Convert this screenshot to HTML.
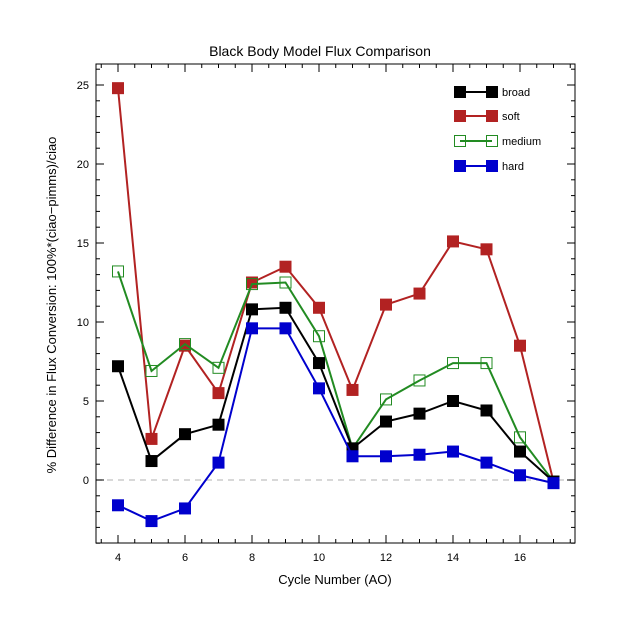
<!DOCTYPE html><html><head><style>body{margin:0;background:#fff}svg{display:block}text{font-family:"Liberation Sans",sans-serif;fill:#000}</style></head><body>
<svg id="s" width="640" height="640" xmlns="http://www.w3.org/2000/svg">
<rect width="640" height="640" fill="#fff"/>
<line x1="96" y1="480" x2="575" y2="480" stroke="#ccc" stroke-width="1.5" stroke-dasharray="6,5"/>
<g id="ticks" stroke="#000" stroke-width="1"></g>
<rect x="96" y="64" width="479" height="479" fill="none" stroke="#000" stroke-width="1"/>
<text x="320" y="56" font-size="14" text-anchor="middle">Black Body Model Flux Comparison</text>
<text x="335" y="584" font-size="13" text-anchor="middle">Cycle Number (AO)</text>
<text transform="translate(56,305) rotate(-90)" font-size="13" text-anchor="middle">% Difference in Flux Conversion: 100%*(ciao−pimms)/ciao</text>
<g font-size="11" text-anchor="middle">
<text x="118" y="561">4</text><text x="185" y="561">6</text><text x="252" y="561">8</text><text x="319" y="561">10</text><text x="386" y="561">12</text><text x="453" y="561">14</text><text x="520" y="561">16</text>
</g>
<g font-size="11" text-anchor="end">
<text x="89" y="484">0</text><text x="89" y="405">5</text><text x="89" y="326">10</text><text x="89" y="247">15</text><text x="89" y="168">20</text><text x="89" y="89">25</text>
</g>
<g id="series"></g>
<g font-size="11">
<line x1="460" y1="92" x2="492" y2="92" stroke="#000" stroke-width="2"/><rect x="454" y="86" width="12" height="12" fill="#000"/><rect x="486" y="86" width="12" height="12" fill="#000"/><text x="502" y="96">broad</text>
<line x1="460" y1="116" x2="492" y2="116" stroke="#b22222" stroke-width="2"/><rect x="454" y="110" width="12" height="12" fill="#b22222"/><rect x="486" y="110" width="12" height="12" fill="#b22222"/><text x="502" y="120">soft</text>
<line x1="460" y1="141" x2="492" y2="141" stroke="#228b22" stroke-width="2"/><rect x="454.5" y="135.5" width="11" height="11" fill="none" stroke="#228b22"/><rect x="486.5" y="135.5" width="11" height="11" fill="none" stroke="#228b22"/><text x="502" y="145">medium</text>
<line x1="460" y1="166" x2="492" y2="166" stroke="#0000cd" stroke-width="2"/><rect x="454" y="160" width="12" height="12" fill="#0000cd"/><rect x="486" y="160" width="12" height="12" fill="#0000cd"/><text x="502" y="170">hard</text>
</g>
</svg>
<script>
function X(v){return 118+(v-4)*33.5}function Y(v){return 480-v*15.8}
var t=document.getElementById('ticks'),h='';
for(var v=3.5;v<=17.5;v+=0.5){var x=X(v),L=(v%2==0)?8:4;h+='<line x1="'+x+'" y1="543" x2="'+x+'" y2="'+(543-L)+'"/><line x1="'+x+'" y1="64" x2="'+x+'" y2="'+(64+L)+'"/>';}
for(var v=-4;v<=26;v++){var y=Y(v),L=(v%5==0)?8:4;h+='<line x1="96" y1="'+y+'" x2="'+(96+L)+'" y2="'+y+'"/><line x1="575" y1="'+y+'" x2="'+(575-L)+'" y2="'+y+'"/>';}
t.innerHTML=h;
var S=[
["#b22222",1,[24.8,2.6,8.5,5.5,12.5,13.5,10.9,5.7,11.1,11.8,15.1,14.6,8.5,-0.1]],
["#228b22",0,[13.2,6.9,8.6,7.1,12.4,12.5,9.1,2.0,5.1,6.3,7.4,7.4,2.7,-0.1]],
["#000",1,[7.2,1.2,2.9,3.5,10.8,10.9,7.4,2.0,3.7,4.2,5.0,4.4,1.8,-0.1]],
["#0000cd",1,[-1.6,-2.6,-1.8,1.1,9.6,9.6,5.8,1.5,1.5,1.6,1.8,1.1,0.3,-0.2]]];
var g='';
S.forEach(function(s){var p=s[2].map(function(v,i){return X(4+i)+','+Y(v)}).join(' ');
g+='<polyline points="'+p+'" fill="none" stroke="'+s[0]+'" stroke-width="2"/>';
s[2].forEach(function(v,i){var x=X(4+i),y=Y(v);
g+=s[1]?'<rect x="'+(x-6)+'" y="'+(y-6)+'" width="12" height="12" fill="'+s[0]+'"/>':'<rect x="'+(x-5.5)+'" y="'+(y-5.5)+'" width="11" height="11" fill="none" stroke="'+s[0]+'"/>';});});
document.getElementById('series').innerHTML=g;
</script>
</body></html>
